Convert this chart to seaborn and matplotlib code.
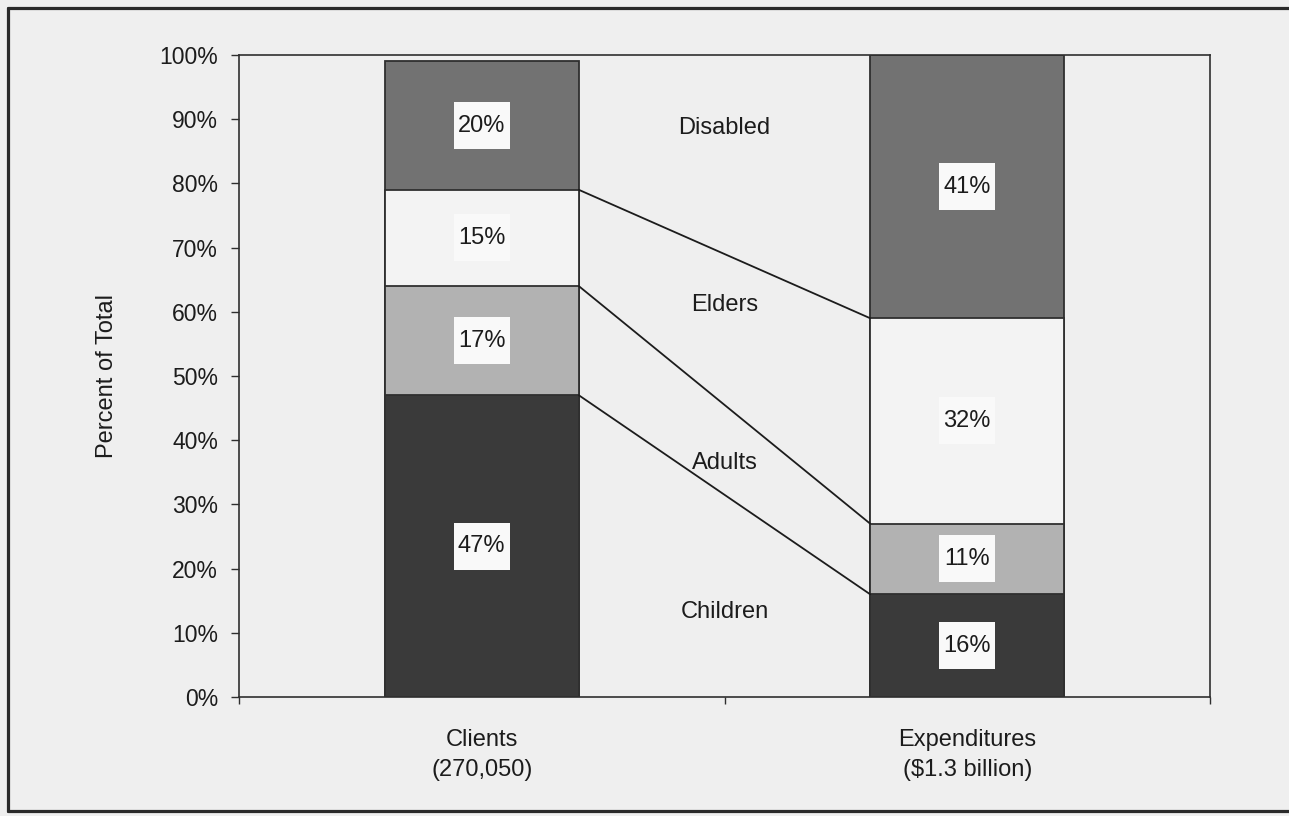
import numpy as np
import pandas as pd
import matplotlib
matplotlib.use("Agg")
import matplotlib.pyplot as plt
import matplotlib.transforms as mtransforms
from matplotlib.patches import Rectangle
from matplotlib.lines import Line2D
from matplotlib.ticker import FuncFormatter, FixedLocator
import seaborn as sns

# Share of clients and of expenditures by eligibility group (percent)
groups = ["Clients\n(270,050)", "Expenditures\n($1.3 billion)"]
segments = ["Children", "Adults", "Elders", "Disabled"]
clients_pct = [47, 17, 15, 20]
expenditures_pct = [16, 11, 32, 41]
y_ticks = list(range(0, 101, 10))

# Styling
BG = "#efefef"
EDGE = "#2f2f2f"
BOX = "#f9f9f9"
TEXT = "#1c1c1c"
seg_colors = {
    "Children": "#3a3a3a",
    "Adults": "#b2b2b2",
    "Elders": "#f3f3f3",
    "Disabled": "#727272",
}
# vertical placement of the group captions between the two bars
caption_y = {"Disabled": 88.6, "Elders": 61.0, "Adults": 36.4, "Children": 13.2}
BAR_WIDTH = 0.4

sns.set_theme(style="white")
plt.rcParams["font.family"] = ["Liberation Sans", "DejaVu Sans"]

df = pd.DataFrame({
    "group": np.repeat(groups, len(segments)),
    "segment": segments * len(groups),
    "pct": clients_pct + expenditures_pct,
})
df["top"] = df.groupby("group", sort=False)["pct"].cumsum()
df["bottom"] = df["top"] - df["pct"]

W, H = 1289, 816
fig = plt.figure(figsize=(W / 100, H / 100), dpi=100, facecolor=BG)
ax = fig.add_axes([239 / W, 1 - 697 / H, 971 / W, 642 / H])
ax.set_facecolor(BG)

# stacked bars: draw cumulative heights from the top segment down
for seg in reversed(segments):
    sub = df[df["segment"] == seg]
    sns.barplot(data=sub, x="group", y="top", order=groups,
                color=seg_colors[seg], saturation=1, width=BAR_WIDTH,
                edgecolor=EDGE, linewidth=1.3, errorbar=None, ax=ax, zorder=2)

# lines joining matching segment boundaries of the two bars
half = BAR_WIDTH / 2
c_tops = df.loc[df["group"] == groups[0], "top"].to_numpy()
e_tops = df.loc[df["group"] == groups[1], "top"].to_numpy()
for c, e in zip(c_tops[:-1], e_tops[:-1]):
    ax.plot([0 + half, 1 - half], [c, e], color="#1c1c1c", lw=1.3, zorder=3)

# percentage labels in small white boxes
for _, r in df.iterrows():
    xi = groups.index(r["group"])
    yc = r["bottom"] + r["pct"] / 2
    trans = fig.dpi_scale_trans + mtransforms.ScaledTranslation(xi, yc, ax.transData)
    ax.add_patch(Rectangle((-0.28, -0.235), 0.56, 0.47, transform=trans,
                           facecolor=BOX, edgecolor="none", zorder=4))
    ax.text(xi, yc, f"{r['pct']}%", ha="center", va="center",
            fontsize=17, color=TEXT, zorder=5)

# group captions between the bars
for seg in segments:
    ax.text(0.5, caption_y[seg], seg, ha="center", va="center",
            fontsize=17, color=TEXT, zorder=5)

ax.set_xlim(-0.5, 1.5)
ax.set_ylim(0, 100)
ax.set_xlabel("")
ax.set_ylabel("Percent of Total", fontsize=17, color=TEXT, labelpad=30)
ax.yaxis.set_major_locator(FixedLocator(y_ticks))
ax.yaxis.set_major_formatter(FuncFormatter(lambda v, _: f"{v:.0f}%"))
ax.xaxis.set_minor_locator(FixedLocator([-0.5, 0.5, 1.5]))

ax.tick_params(axis="y", which="major", left=True, direction="out", length=6,
               width=1.0, color=EDGE, pad=9, labelsize=16.5, labelcolor=TEXT)
ax.tick_params(axis="x", which="major", bottom=True, length=0, pad=23,
               labelsize=17, labelcolor=TEXT)
ax.tick_params(axis="x", which="minor", bottom=True, direction="out", length=5,
               width=1.0, color=EDGE)
for lbl in ax.get_xticklabels():
    lbl.set_linespacing(1.5)

for sp in ax.spines.values():
    sp.set_visible(True)
    sp.set_color(EDGE)
    sp.set_linewidth(1.2)

# page frame on the left, top and bottom
frame_kw = dict(transform=fig.transFigure, color="#2a2a2a", lw=2.3)
x0, y_top, y_bot = 8 / W, 1 - 8 / H, 1 - 811 / H
fig.add_artist(Line2D([x0, x0], [y_bot, y_top], **frame_kw))
fig.add_artist(Line2D([x0, 1], [y_top, y_top], **frame_kw))
fig.add_artist(Line2D([x0, 1], [y_bot, y_bot], **frame_kw))

fig.savefig("out.png", dpi=100, facecolor=BG)
